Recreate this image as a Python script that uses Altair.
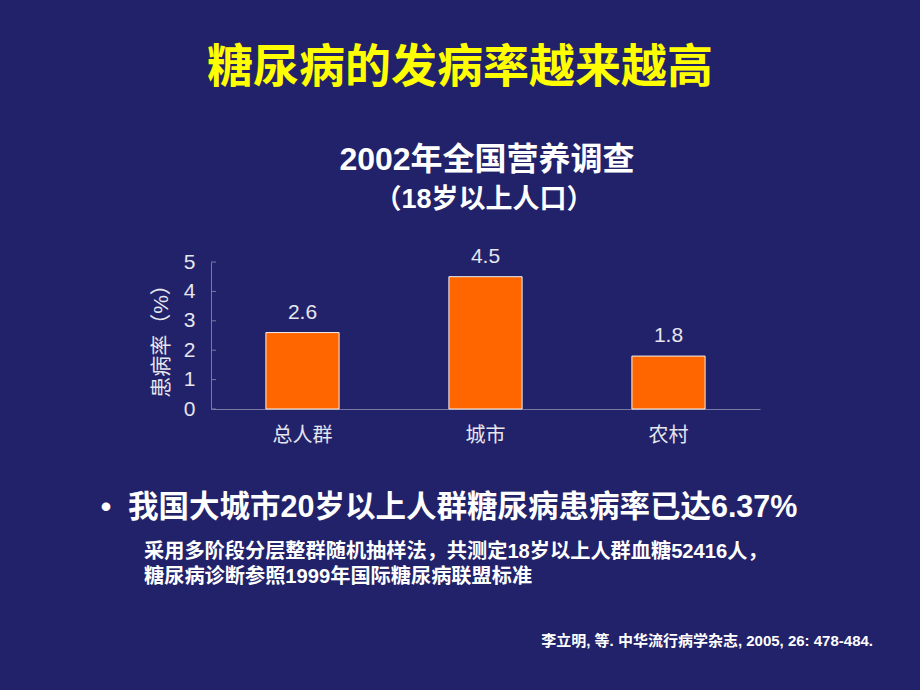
import altair as alt
import pandas as pd

# ---- data ----
categories = ["总人群", "城市", "农村"]
values = [2.6, 4.5, 1.8]
value_labels = ["2.6", "4.5", "1.8"]
y_ticks = [0, 1, 2, 3, 4, 5]

title_text = "糖尿病的发病率越来越高"
subtitle1 = "2002年全国营养调查"
subtitle2 = "（18岁以上人口）"
bullet_text = "我国大城市20岁以上人群糖尿病患病率已达6.37%"
note1 = "采用多阶段分层整群随机抽样法，共测定18岁以上人群血糖52416人，"
note2 = "糖尿病诊断参照1999年国际糖尿病联盟标准"
citation = "李立明, 等. 中华流行病学杂志, 2005, 26: 478-484."
y_title = "患病率（%）"

BG = "#22226A"
AXIS = "#7878a0"
LABEL = "#e6e6ee"
FONT = "Liberation Sans, Noto Sans CJK SC"

df = pd.DataFrame({"cat": categories, "val": values, "lab": value_labels})
tick_df = pd.DataFrame({"t": y_ticks})

x_scale = alt.Scale(paddingInner=0.6, paddingOuter=0.3)
x_axis = alt.Axis(
    title=None, labelAngle=0, labelFontSize=20, labelColor=LABEL,
    labelFont=FONT, labelPadding=16, tickSize=0,
    domainColor=AXIS, domainWidth=1,
)
y_scale = alt.Scale(domain=[0, 5], nice=False)
y_axis = alt.Axis(
    title=y_title, values=y_ticks, grid=False, tickSize=0,
    labelFontSize=21, labelColor=LABEL, labelFont=FONT, labelPadding=16,
    labelOverlap=False, labelBound=False,
    domainColor=AXIS, domainWidth=1,
    titleFontSize=21, titleFontWeight="normal", titleColor=LABEL,
    titleFont=FONT, titlePadding=12,
)

x_enc = alt.X("cat:N", sort=categories, scale=x_scale, axis=x_axis)
y_enc = alt.Y("val:Q", scale=y_scale, axis=y_axis)

bars = alt.Chart(df).mark_bar(
    color="#FF6600", stroke="#f2f2f2", strokeWidth=1
).encode(x=x_enc, y=y_enc)

bar_labels = alt.Chart(df).mark_text(
    baseline="bottom", dy=-10, fontSize=21, color=LABEL, font=FONT
).encode(x=x_enc, y=y_enc, text="lab:N")

inner_ticks = alt.Chart(tick_df).mark_rule(color=AXIS, strokeWidth=1).encode(
    y=alt.Y("t:Q", scale=y_scale, axis=y_axis), x=alt.value(0), x2=alt.value(5)
)


def txt(s, x, y, size, color="white", weight="bold", align="center"):
    return alt.Chart(pd.DataFrame({"t": [s]})).mark_text(
        fontSize=size, fontWeight=weight, color=color, align=align,
        baseline="middle", font=FONT,
    ).encode(text="t:N", x=alt.value(x), y=alt.value(y))


layers = [
    bars,
    inner_ticks,
    bar_labels,
    txt(title_text, 249, -194, 46, color="#FFFF00"),
    txt(subtitle1, 276, -102, 32),
    txt(subtitle2, 273, -62, 27),
    txt("•", -105, 246, 30, align="center"),
    txt(bullet_text, -83, 246, 30.5, align="left"),
    txt(note1, -67, 290, 20.2, align="left"),
    txt(note2, -67, 315, 20.2, align="left"),
    txt(citation, 662, 379, 15, align="right"),
]

chart = alt.layer(*layers).properties(
    width=549,
    height=147,
    autosize=alt.AutoSizeParams(type="none"),
    padding={"left": 211, "top": 262, "right": 160, "bottom": 281},
    background=BG,
).configure_view(stroke=None).configure_axis(labelOverlap=False)

chart.save("out.html", embed_options={"renderer": "svg", "actions": False})
